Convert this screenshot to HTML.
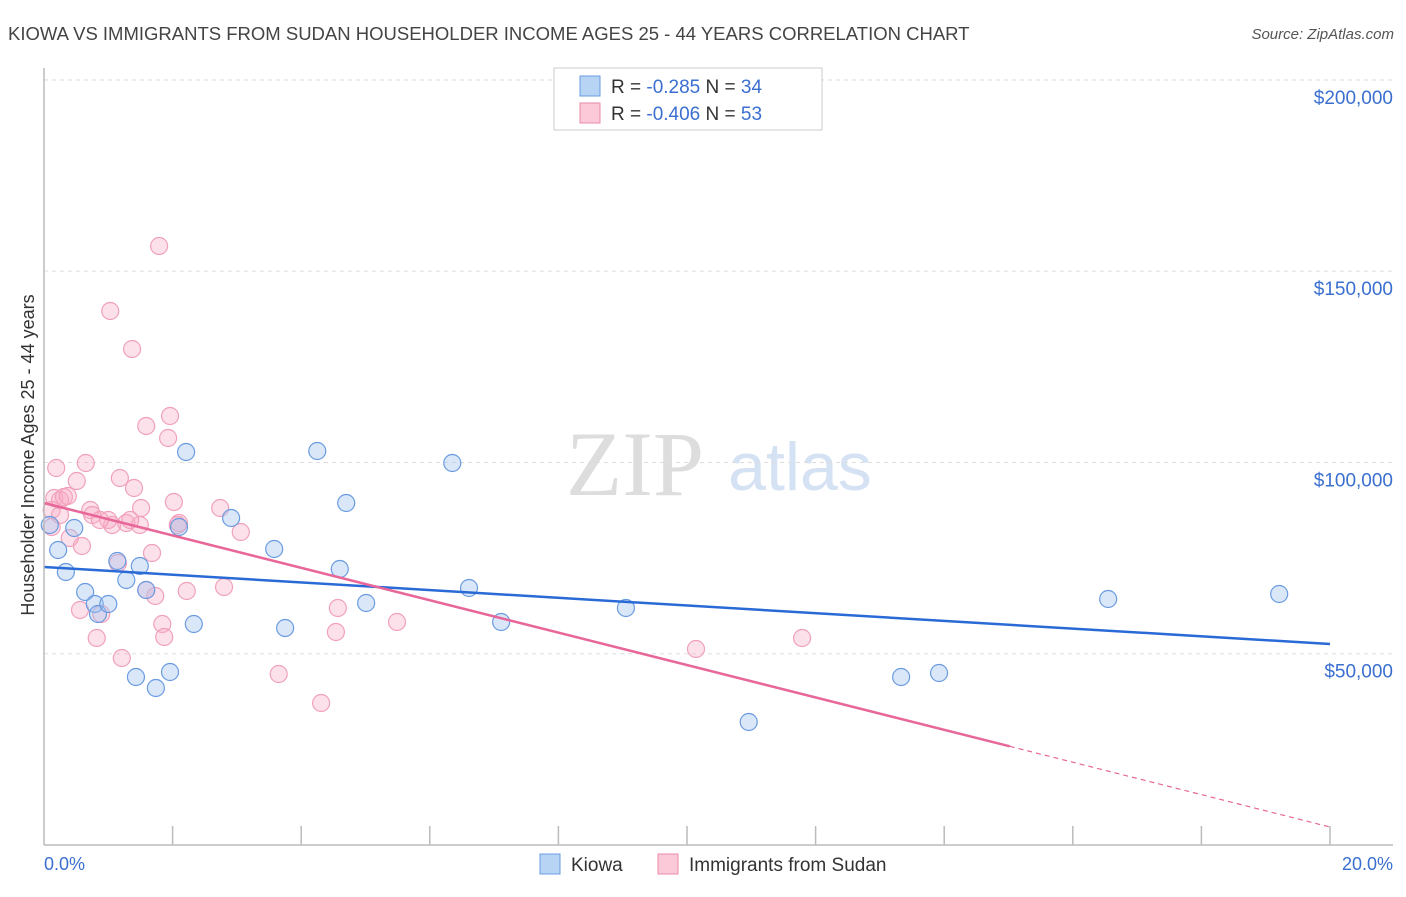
<!DOCTYPE html>
<html><head><meta charset="utf-8"><style>
body{margin:0;background:#fff;font-family:"Liberation Sans",sans-serif}
</style></head><body>
<svg width="1406" height="892" xmlns="http://www.w3.org/2000/svg" id="svg" font-family="Liberation Sans, sans-serif">
<text x="8" y="40" font-size="18.5" fill="#444">KIOWA VS IMMIGRANTS FROM SUDAN HOUSEHOLDER INCOME AGES 25 - 44 YEARS CORRELATION CHART</text>
<text x="1394" y="39" font-size="15" fill="#555" font-style="italic" text-anchor="end">Source: ZipAtlas.com</text>
<text x="635" y="495" font-size="92" fill="#ddd" font-family="Liberation Serif, serif" text-anchor="middle">ZIP</text>
<text x="800" y="490" font-size="68" fill="#d5e2f3" text-anchor="middle">atlas</text>
<text transform="translate(34,455) rotate(-90)" font-size="18" fill="#333" text-anchor="middle">Householder Income Ages 25 - 44 years</text>
<g id="grid"></g><g id="pts"></g><g id="lines"></g>
<line x1="44" y1="68" x2="44" y2="845" stroke="#bbb" stroke-width="1.5"/>
<line x1="44" y1="845" x2="1393" y2="845" stroke="#bbb" stroke-width="1.5"/>
<text x="44" y="870" font-size="18" fill="#3a6fd0">0.0%</text>
<text x="1393" y="870" font-size="18" fill="#3a6fd0" text-anchor="end">20.0%</text>
<g>
<rect x="540" y="854" width="20" height="20" fill="#b8d4f5" stroke="#6a9be0"/>
<text x="571" y="871" font-size="19" fill="#333">Kiowa</text>
<rect x="658" y="854" width="20" height="20" fill="#fbc9d8" stroke="#e88aa8"/>
<text x="689" y="871" font-size="19" fill="#333">Immigrants from Sudan</text>
</g>
<g>
<rect x="554" y="68" width="268" height="62" fill="#fff" stroke="#ccc"/>
<rect x="580" y="76" width="20" height="20" fill="#b8d4f5" stroke="#6a9be0"/>
<text x="611" y="93" font-size="19" fill="#333">R = <tspan fill="#3a6fd0">-0.285</tspan>   N = <tspan fill="#3a6fd0">34</tspan></text>
<rect x="580" y="103" width="20" height="20" fill="#fbc9d8" stroke="#e88aa8"/>
<text x="611" y="120" font-size="19" fill="#333">R = <tspan fill="#3a6fd0">-0.406</tspan>   N = <tspan fill="#3a6fd0">53</tspan></text>
</g>
</svg>
<script>
const yTicks=[50000,100000,150000,200000];
const yTickLabels=["$50,000","$100,000","$150,000","$200,000"];
const xTicks=[2,4,6,8,10,12,14,16,18,20];
const kiowaPx=[[50,525],[58,550],[66,572],[74,528],[85,592],[95,604],[98,614],[108,604],[117,561],[126,580],[140,566],[146,590],[136,677],[156,688],[170,672],[186,452],[179,527],[194,624],[231,518],[274,549],[285,628],[317,451],[340,569],[346,503],[366,603],[452,463],[469,588],[501,622],[626,608],[749,722],[901,677],[939,673],[1108,599],[1279,594]];
const sudanPx=[[54,498],[52,510],[56,468],[60,500],[64,497],[68,496],[77,481],[70,538],[82,546],[86,463],[80,610],[90,510],[97,638],[101,614],[112,525],[108,520],[118,563],[120,478],[122,658],[126,523],[134,488],[110,311],[132,349],[146,426],[141,508],[140,525],[152,553],[155,596],[146,590],[159,246],[162,624],[164,637],[168,438],[170,416],[174,502],[179,523],[187,591],[220,508],[224,587],[241,532],[279,674],[321,703],[336,632],[338,608],[397,622],[696,649],[802,638],[52,527],[60,515],[92,515],[130,520],[178,525],[100,520]];
// data values (x in %, y in $)
const kiowaX=kiowaPx.map(p=>+((p[0]-44)/64.3).toFixed(2));
const kiowaY=kiowaPx.map(p=>Math.round((845-p[1])*261.4));
const sudanX=sudanPx.map(p=>+((p[0]-44)/64.3).toFixed(2));
const sudanY=sudanPx.map(p=>Math.round((845-p[1])*261.4));
const kiowaTrend=[72670,52540];
const sudanTrend=[89400,4700];
const sudanSolidEnd=15.02;
const sx=v=>44+v*64.3, sy=v=>845-v/261.4;
const NS="http://www.w3.org/2000/svg";
function mk(t,a,p){const e=document.createElementNS(NS,t);for(const k in a)e.setAttribute(k,a[k]);p.appendChild(e);return e;}
const grid=document.getElementById('grid');
yTicks.forEach((v,i)=>{
 const l=mk('line',{x1:44,x2:1393,y1:sy(v),y2:sy(v),stroke:'#ddd','stroke-dasharray':'4,4'},grid);
 
 
 const t=mk('text',{x:1393,y:sy(v)+24,'font-size':19,fill:'#3a6fd0','text-anchor':'end'},grid);
 t.textContent=yTickLabels[i];
 
 
});
mk('line',{x1:44,x2:1393,y1:80,y2:80,stroke:'#ddd','stroke-dasharray':'4,4'},grid);
xTicks.forEach(v=>{
 const l=mk('line',{x1:sx(v),x2:sx(v),y1:826,y2:845,stroke:'#bbb','stroke-width':1.5},grid);
 
 
});
const pts=document.getElementById('pts');
sudanX.forEach((x,i)=>{
 const c=mk('circle',{cx:sx(x),cy:sy(sudanY[i]),r:8.5,fill:'rgba(248,170,195,0.35)',stroke:'#f0a0bb','stroke-width':1.2},pts);
 
 
});
kiowaX.forEach((x,i)=>{
 const c=mk('circle',{cx:sx(x),cy:sy(kiowaY[i]),r:8.5,fill:'rgba(160,195,240,0.4)',stroke:'#6a9be0','stroke-width':1.2},pts);
 
 
});
const lines=document.getElementById('lines');
let l=mk('line',{x1:sx(0),y1:sy(kiowaTrend[0]),x2:sx(20),y2:sy(kiowaTrend[1]),stroke:'#2a6ad6','stroke-width':2.5},lines);


const ps=v=>sudanTrend[0]+(sudanTrend[1]-sudanTrend[0])*v/20;
l=mk('line',{x1:sx(0),y1:sy(ps(0)),x2:sx(sudanSolidEnd),y2:sy(ps(sudanSolidEnd)),stroke:'#e8679a','stroke-width':2.5},lines);


l=mk('line',{x1:sx(sudanSolidEnd),y1:sy(ps(sudanSolidEnd)),x2:sx(20),y2:sy(ps(20)),stroke:'#e8679a','stroke-width':1.2,'stroke-dasharray':'5,4'},lines);


</script>
</body></html>
